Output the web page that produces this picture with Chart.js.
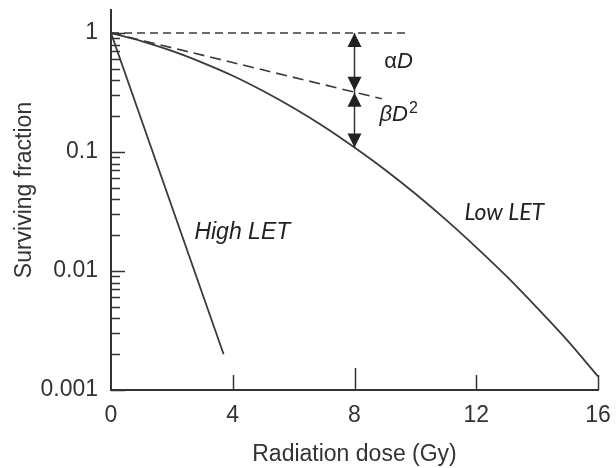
<!DOCTYPE html>
<html>
<head>
<meta charset="utf-8">
<script src="https://cdn.jsdelivr.net/npm/chart.js@4.4.1/dist/chart.umd.min.js"></script>
<style>
  html, body { margin: 0; padding: 0; background: #fff; }
  #wrap { width: 616px; height: 468px; }
</style>
</head>
<body>
<div id="wrap"><canvas id="grafico" width="616" height="468"></canvas></div>
<script>
// ================= DADOS =================
const doseLow = [0, 1, 2, 3, 4, 5, 6, 7, 8, 9, 10, 11, 12, 13, 14, 15, 16];
const survivalLow = [1, 0.855, 0.707, 0.564, 0.437, 0.325, 0.234, 0.163, 0.109, 0.071, 0.0446, 0.027, 0.0158, 0.009, 0.0049, 0.0026, 0.0013];

const doseHigh = [0, 3.7];
const survivalHigh = [1, 0.002];

// linha tracejada inclinada (componente alfa) e linha de referência em 1
const doseAlpha = [0, 8.9];
const survivalAlpha = [1, 0.28];
const doseRef = [0, 9.8];
const survivalRef = [1, 1];

// setas em D = 8
const arrowDose = 8;
const arrowLevels = [1, 0.32, 0.109];

const xTicks = [0, 4, 8, 12, 16];
const xTickLabels = ['0', '4', '8', '12', '16'];
const yTicks = [0.001, 0.01, 0.1, 1];
const yTickLabels = ['0.001', '0.01', '0.1', '1'];

const INK = '#333';
const FONT = '"Liberation Sans", Arial, sans-serif';

function pares(xs, ys) {
  return xs.map((x, i) => ({ x: x, y: ys[i] }));
}

// ================= PLUGIN: ticks internos, setas e textos =================
const anotacoes = {
  id: 'anotacoes',
  afterDatasetsDraw(chart) {
    const { ctx, chartArea, scales: { x, y } } = chart;
    ctx.save();

    // ticks do eixo y (para dentro)
    ctx.strokeStyle = INK;
    ctx.lineWidth = 1.5;
    yTicks.forEach(dec => {
      for (let m = 1; m <= 9; m++) {
        const v = dec * m;
        if (v > 1.0001) break;
        const py = Math.round(y.getPixelForValue(v)) + 0.5;
        const len = m === 1 ? 14 : 9;
        ctx.beginPath();
        ctx.moveTo(chartArea.left, py);
        ctx.lineTo(chartArea.left + len, py);
        ctx.stroke();
      }
    });

    // ticks do eixo x (para cima)
    xTicks.forEach(v => {
      if (v === 0) return;
      const px = Math.round(x.getPixelForValue(v)) + 0.5;
      const len = v === 8 ? 22 : 15;
      ctx.beginPath();
      ctx.moveTo(px, chartArea.bottom);
      ctx.lineTo(px, chartArea.bottom - len);
      ctx.stroke();
    });

    // setas duplas
    const ax = x.getPixelForValue(arrowDose);
    const p0 = y.getPixelForValue(arrowLevels[0]);
    const p1 = y.getPixelForValue(arrowLevels[1]);
    const p2 = y.getPixelForValue(arrowLevels[2]);
    ctx.lineWidth = 1.5;
    ctx.beginPath();
    ctx.moveTo(ax, p0);
    ctx.lineTo(ax, p2);
    ctx.stroke();

    function ponta(tipY, dir) {
      // dir = -1 aponta para cima, +1 para baixo
      ctx.beginPath();
      ctx.moveTo(ax, tipY);
      ctx.lineTo(ax - 7, tipY - dir * 14);
      ctx.lineTo(ax + 7, tipY - dir * 14);
      ctx.closePath();
      ctx.fillStyle = '#222';
      ctx.fill();
    }
    ponta(p0, -1);
    ponta(p1 - 1, 1);
    ponta(p1 + 1, -1);
    ponta(p2, 1);

    // textos
    ctx.fillStyle = '#222';
    ctx.textBaseline = 'middle';
    ctx.textAlign = 'left';

    let tx = x.getPixelForValue(8.98);
    let ty = y.getPixelForValue(0.571);
    ctx.font = '22px ' + FONT;
    ctx.fillText('α', tx, ty);
    tx += ctx.measureText('α').width;
    ctx.font = 'italic 22px ' + FONT;
    ctx.fillText('D', tx, ty);

    tx = x.getPixelForValue(8.82);
    ty = y.getPixelForValue(0.205);
    ctx.font = 'italic 22px ' + FONT;
    ctx.fillText('β', tx, ty);
    tx += ctx.measureText('β').width;
    ctx.fillText('D', tx, ty);
    tx += ctx.measureText('D').width;
    ctx.font = '16px ' + FONT;
    ctx.fillText('2', tx + 1, ty - 6);

    ctx.font = 'italic 23px ' + FONT;
    ctx.fillText('High LET', x.getPixelForValue(2.74), y.getPixelForValue(0.0211));
    ctx.font = 'italic 23px Lato, ' + FONT;
    ctx.fillText('Low LET', x.getPixelForValue(11.61), y.getPixelForValue(0.031));

    // título do eixo y
    ctx.font = '23px ' + FONT;
    ctx.fillStyle = INK;
    ctx.textAlign = 'center';
    ctx.translate(25, 190);
    ctx.rotate(-Math.PI / 2);
    ctx.fillText('Surviving fraction', 0, 0);

    ctx.restore();
  }
};

// ================= GRÁFICO =================
const linhaBase = {
  borderColor: '#3a3a3a',
  borderWidth: 1.8,
  pointRadius: 0,
  fill: false
};

new Chart(document.getElementById('grafico').getContext('2d'), {
  type: 'line',
  data: {
    datasets: [
      Object.assign({ label: 'Low LET', data: pares(doseLow, survivalLow), cubicInterpolationMode: 'monotone' }, linhaBase),
      Object.assign({ label: 'High LET', data: pares(doseHigh, survivalHigh) }, linhaBase),
      Object.assign({ label: 'alpha D', data: pares(doseAlpha, survivalAlpha), borderDash: [11, 6] }, linhaBase, { borderWidth: 1.6 }),
      Object.assign({ label: 'ref', data: pares(doseRef, survivalRef), borderDash: [8, 5] }, linhaBase, { borderWidth: 1.4 })
    ]
  },
  options: {
    responsive: false,
    devicePixelRatio: 1,
    animation: false,
    layout: { padding: { top: 10, right: 18, left: 0, bottom: 0 } },
    plugins: {
      legend: { display: false },
      tooltip: { enabled: false }
    },
    scales: {
      x: {
        type: 'linear',
        min: 0,
        max: 16,
        afterFit: s => { s.height = 78; s.paddingLeft = 0; s.paddingRight = 0; },
        afterBuildTicks: s => { s.ticks = xTicks.map(v => ({ value: v })); },
        grid: { drawOnChartArea: false, drawTicks: false },
        border: { display: true, color: INK, width: 2 },
        ticks: {
          padding: 12,
          color: INK,
          font: { family: FONT, size: 23 },
          callback: (v, i) => xTickLabels[i]
        },
        title: {
          display: true,
          text: 'Radiation dose (Gy)',
          color: INK,
          font: { family: FONT, size: 23 },
          padding: 0
        }
      },
      y: {
        type: 'logarithmic',
        min: 0.001,
        max: 1.56,
        afterFit: s => { s.width = 111; s.paddingTop = 0; s.paddingBottom = 0; },
        afterBuildTicks: s => { s.ticks = yTicks.map(v => ({ value: v })); },
        grid: { drawOnChartArea: false, drawTicks: false },
        border: { display: true, color: INK, width: 2 },
        ticks: {
          padding: 13,
          color: INK,
          font: { family: FONT, size: 23 },
          callback: (v, i) => yTickLabels[i]
        }
      }
    }
  },
  plugins: [anotacoes]
});
</script>
</body>
</html>
